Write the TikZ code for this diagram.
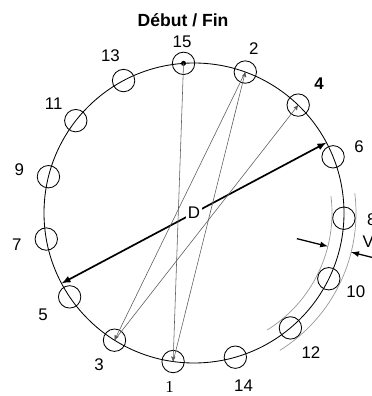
\documentclass[tikz,border=0pt]{standalone}
\usepackage{fontspec}
\setmainfont{Liberation Sans}
\newfontfamily\serifone{Liberation Serif}
\usetikzlibrary{arrows}

\begin{document}
\begin{tikzpicture}[>=latex,
  spot node/.style={circle,draw,minimum size=0.56cm,inner sep=0pt,line width=0.6pt},
  num node/.style={font=\fontsize{12}{14}\selectfont,inner sep=0pt},
  title node/.style={font=\bfseries\fontsize{12.5}{14}\selectfont,inner sep=0pt},
  chord/.style={->,>=stealth',gray!70!black,line width=0.4pt},
  band/.style={gray!80,line width=0.5pt},
  width arrow/.style={->,line width=0.9pt}]

  \useasboundingbox (-4.85,-4.575) rectangle (4.45,5.325);

  \node[title node] (title) at (-0.275,4.825) {Début / Fin};

  % track
  \draw[line width=0.6pt] (0,0) circle (3.75);
  \draw[band] (7:3.45) arc[start angle=7,end angle=-58,radius=3.45];
  \draw[band] (7:4.05) arc[start angle=7,end angle=-58,radius=4.05];

  % positions
  \node[spot node] (p15) at (94:3.75) {};
  \node[spot node] (p2) at (70:3.75) {};
  \node[spot node] (p4) at (46:3.75) {};
  \node[spot node] (p6) at (22:3.75) {};
  \node[spot node] (p8) at (-2:3.75) {};
  \node[spot node] (p10) at (-26:3.75) {};
  \node[spot node] (p12) at (-50:3.75) {};
  \node[spot node] (p14) at (-74:3.75) {};
  \node[spot node] (p1) at (-98:3.75) {};
  \node[spot node] (p3) at (-122:3.75) {};
  \node[spot node] (p5) at (-146:3.75) {};
  \node[spot node] (p7) at (-170:3.75) {};
  \node[spot node] (p9) at (166:3.75) {};
  \node[spot node] (p11) at (142:3.75) {};
  \node[spot node] (p13) at (118:3.75) {};

  \node[num node] (l15) at (94:4.28) {15};
  \node[num node] (l2) at (70:4.38) {2};
  \node[num node] (l4) at (46:4.5) {\bfseries 4};
  \node[num node] (l6) at (22:4.45) {6};
  \node[num node] (l8) at (-2:4.45) {8};
  \node[num node] (l10) at (-26:4.5) {10};
  \node[num node] (l12) at (-50:4.55) {12};
  \node[num node] (l14) at (-74:4.5) {14};
  \node[num node] (l1) at (-98:4.4) {\serifone 1};
  \node[num node] (l3) at (-122:4.475) {3};
  \node[num node] (l5) at (-146:4.55) {5};
  \node[num node] (l7) at (-170:4.5) {7};
  \node[num node] (l9) at (166:4.5) {9};
  \node[num node] (l11) at (142:4.45) {11};
  \node[num node] (l13) at (118:4.45) {13};

  \fill (p15.center) circle (1.8pt);

  % diameter D
  \coordinate (dA) at (28:3.75);
  \coordinate (dB) at (208:3.75);
  \draw[<->,line width=1.2pt] (dA) -- node[fill=white,inner sep=1.5pt,font=\fontsize{12}{14}\selectfont] (dlab) {D} (dB);

  % sequence
  \draw[chord] (p15.center) -- (p1.center);
  \draw[chord] (p1.center) -- (p2.center);
  \draw[chord] (p2.center) -- (p3.center);
  \draw[chord] (p3.center) -- (p4.center);

  % width V
  \coordinate (vin) at (-14:2.65);
  \coordinate (vinT) at (-14:3.45);
  \coordinate (vout) at (-14:4.7);
  \coordinate (voutT) at (-14:4.05);
  \draw[width arrow] (vin) -- (vinT);
  \draw[width arrow] (vout) -- (voutT);
  \node[num node] (vlab) at (-9.5:4.42) {V};
\end{tikzpicture}
\end{document}
